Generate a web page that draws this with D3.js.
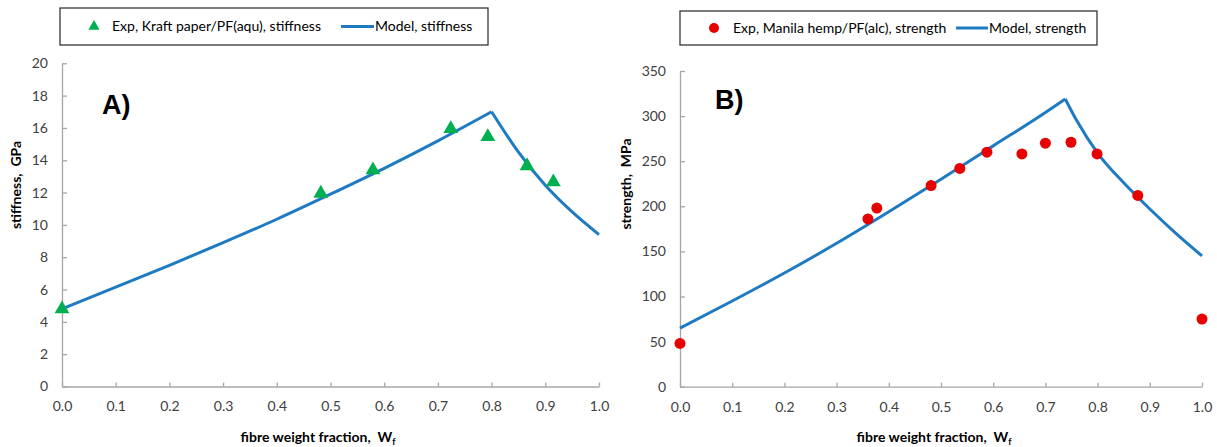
<!DOCTYPE html>
<html>
<head>
<meta charset="utf-8">
<script src="https://cdn.jsdelivr.net/npm/d3@7"></script>
<style>
  html, body { margin: 0; padding: 0; background: #fff; }
  svg { display: block; font-family: Lato, "Open Sans", sans-serif; }
  svg text { white-space: pre; }
</style>
</head>
<body>
<svg id="chart" width="1217" height="447"></svg>
<script>
// ---------- data ----------
const xTicks = [0, 0.1, 0.2, 0.3, 0.4, 0.5, 0.6, 0.7, 0.8, 0.9, 1.0];
const stiffnessTicks = [0, 2, 4, 6, 8, 10, 12, 14, 16, 18, 20];
const strengthTicks = [0, 50, 100, 150, 200, 250, 300, 350];

// Panel A: experimental (Kraft paper/PF(aqu))
const kraftWf = [0, 0.482, 0.579, 0.724, 0.793, 0.866, 0.915];
const kraftStiffness = [4.8, 11.95, 13.4, 15.95, 15.45, 13.65, 12.65];
// Panel A: model
const modelStiffWf = [0, 0.1, 0.2, 0.3, 0.4, 0.5, 0.6, 0.7, 0.8, 0.85, 0.9, 0.95, 1.0];
const modelStiffness = [4.8, 6.15, 7.5, 8.9, 10.35, 11.9, 13.5, 15.2, 17.0, 14.5, 12.45, 10.8, 9.4];

// Panel B: experimental (Manila hemp/PF(alc))
const hempWf = [0, 0.36, 0.377, 0.481, 0.536, 0.588, 0.655, 0.70, 0.749, 0.799, 0.877, 1.0];
const hempStrength = [48, 186, 198, 223, 242, 260, 258, 270, 271, 258, 212, 75];
// Panel B: model
const modelStrWf = [0, 0.1, 0.2, 0.3, 0.4, 0.5, 0.6, 0.7, 0.738, 0.76, 0.8, 0.85, 0.9, 0.95, 1.0];
const modelStrength = [65, 95, 126, 159, 194, 230, 267, 304, 319, 295, 259, 226, 197, 170, 145];

// ---------- styles ----------
const BLUE = "#1f7bc1";
const GREEN = "#00b050";
const RED = "#e60000";
const AXIS = "#a6a6a6";
const TEXT = "#404040";
const FS = 14;

const svg = d3.select("#chart");

function drawPanel(p) {
  const x = d3.scaleLinear().domain([0, 1]).range(p.xRange);
  const y = d3.scaleLinear().domain(p.yDomain).range(p.yRange);
  const g = svg.append("g");

  // axes
  const xAxis = d3.axisBottom(x).tickValues(xTicks).tickFormat(d3.format(".1f"))
    .tickSizeInner(-4).tickSizeOuter(0).tickPadding(15);
  const yAxis = d3.axisLeft(y).tickValues(p.yTicks).tickFormat(d3.format("d"))
    .tickSizeInner(-5).tickSizeOuter(0).tickPadding(p.yPad);

  const gx = g.append("g").attr("transform", `translate(0,${p.yRange[0]})`).call(xAxis);
  const gy = g.append("g").attr("transform", `translate(${p.xRange[0]},0)`).call(yAxis);
  [gx, gy].forEach(a => {
    a.select(".domain").attr("stroke", AXIS).attr("stroke-width", 1.3);
    a.selectAll(".tick line").attr("stroke", AXIS).attr("stroke-width", 1.3);
    a.selectAll(".tick text").attr("fill", TEXT).style("font-size", FS + "px")
      .style("font-family", "Lato, 'Open Sans', sans-serif");
  });

  // model line: split at the peak so the kink stays sharp
  const pts = p.modelX.map((d, i) => [d, p.modelY[i]]);
  const peak = d3.maxIndex(p.modelY);
  const line = d3.line().x(d => x(d[0])).y(d => y(d[1])).curve(d3.curveMonotoneX);
  [pts.slice(0, peak + 1), pts.slice(peak)].forEach(seg => {
    g.append("path").attr("d", line(seg)).attr("fill", "none")
      .attr("stroke", BLUE).attr("stroke-width", 3).attr("stroke-linejoin", "miter");
  });

  // experimental markers
  const expPts = p.expX.map((d, i) => [d, p.expY[i]]);
  if (p.marker === "triangle") {
    const sym = d3.symbol().type(d3.symbolTriangle).size(95);
    g.selectAll("path.mk").data(expPts).join("path").attr("class", "mk")
      .attr("d", sym).attr("fill", GREEN)
      .attr("transform", d => `translate(${x(d[0])},${y(d[1])})`);
  } else {
    g.selectAll("circle.mk").data(expPts).join("circle").attr("class", "mk")
      .attr("cx", d => x(d[0])).attr("cy", d => y(d[1])).attr("r", 5.5).attr("fill", RED);
  }

  // panel letter
  g.append("text").attr("x", p.letterPos[0]).attr("y", p.letterPos[1])
    .attr("font-size", 27).attr("font-weight", "bold").attr("fill", "#000")
    .style("font-family", "'Liberation Sans', Arial, sans-serif")
    .text(p.letter);

  // axis titles
  const xt = g.append("text").attr("x", p.xTitlePos[0]).attr("y", p.xTitlePos[1])
    .attr("text-anchor", "middle").attr("font-size", FS).attr("font-weight", "bold").attr("fill", "#000");
  xt.append("tspan").text("fibre weight fraction,  W");
  xt.append("tspan").attr("font-size", 9).attr("dy", 3).text("f");

  g.append("text").attr("transform", `translate(${p.yTitlePos[0]},${p.yTitlePos[1]}) rotate(-90)`)
    .attr("text-anchor", "middle").attr("dy", "0.35em").attr("font-size", FS).attr("font-weight", "bold")
    .attr("fill", "#000").text(p.yTitle);

  // legend
  const L = p.legend;
  g.append("rect").attr("x", L.x).attr("y", L.y).attr("width", L.w).attr("height", L.h)
    .attr("fill", "#fff").attr("stroke", "#262626").attr("stroke-width", 1.2);
  const cy = L.y + L.h / 2;
  if (p.marker === "triangle") {
    g.append("path").attr("d", d3.symbol().type(d3.symbolTriangle).size(55)())
      .attr("fill", GREEN).attr("transform", `translate(${L.markX},${cy})`);
  } else {
    g.append("circle").attr("cx", L.markX).attr("cy", cy).attr("r", 5).attr("fill", RED);
  }
  g.append("text").attr("x", L.text1X).attr("y", cy).attr("dy", "0.35em")
    .attr("font-size", FS).attr("fill", "#000").text(L.text1);
  g.append("line").attr("x1", L.lineX[0]).attr("x2", L.lineX[1]).attr("y1", cy).attr("y2", cy)
    .attr("stroke", BLUE).attr("stroke-width", 3);
  g.append("text").attr("x", L.lineX[1] + 1).attr("y", cy).attr("dy", "0.35em")
    .attr("font-size", FS).attr("fill", "#000").text(L.text2);
}

drawPanel({
  xRange: [62, 599], yDomain: [0, 20], yRange: [386.5, 63.3], yTicks: stiffnessTicks, yPad: 14,
  modelX: modelStiffWf, modelY: modelStiffness, expX: kraftWf, expY: kraftStiffness,
  marker: "triangle", letter: "A)", letterPos: [102, 114],
  xTitlePos: [318, 442], yTitlePos: [16, 185], yTitle: "stiffness,  GPa",
  legend: { x: 60, y: 8, w: 428, h: 37, markX: 94, text1X: 112,
            text1: "Exp, Kraft paper/PF(aqu), stiffness", lineX: [341, 374], text2: "Model, stiffness" }
});

drawPanel({
  xRange: [680, 1202], yDomain: [0, 350], yRange: [386.7, 71], yTicks: strengthTicks, yPad: 14,
  modelX: modelStrWf, modelY: modelStrength, expX: hempWf, expY: hempStrength,
  marker: "circle", letter: "B)", letterPos: [715, 109],
  xTitlePos: [934, 442], yTitlePos: [626, 184], yTitle: "strength,  MPa",
  legend: { x: 680, y: 11, w: 417, h: 34, markX: 714, text1X: 733,
            text1: "Exp, Manila hemp/PF(alc), strength", lineX: [956, 988], text2: "Model, strength" }
});
</script>
</body>
</html>
